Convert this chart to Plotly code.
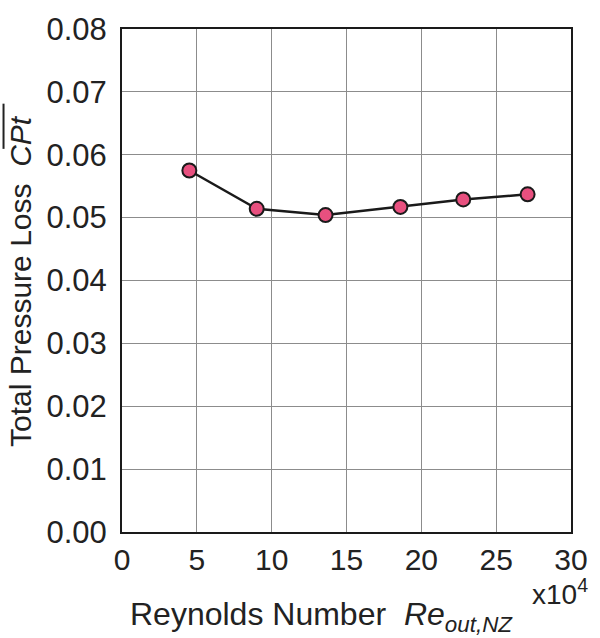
import plotly.graph_objects as go

# Data (Reynolds number in units of 1e4, total pressure loss coefficient)
reynolds = [4.5, 9.0, 13.6, 18.6, 22.8, 27.1]
cpt_loss = [0.0575, 0.0514, 0.0504, 0.0517, 0.0529, 0.0537]

x_ticks = [0, 5, 10, 15, 20, 25, 30]
y_ticks = [0.00, 0.01, 0.02, 0.03, 0.04, 0.05, 0.06, 0.07, 0.08]

W, H = 600, 638
L, R, T, B = 122, 27, 20, 106
pw, ph = W - L - R, H - T - B

def px(xp):
    return (xp - L) / pw

def py(yp):
    return (H - B - yp) / ph

font_main = "Liberation Sans, Arial, sans-serif"
txt_col = "#222222"

fig = go.Figure()
fig.add_trace(go.Scatter(
    x=reynolds, y=cpt_loss, mode="lines+markers",
    line=dict(color="#1a1a1a", width=2.5),
    marker=dict(size=14, color="#e8507f", line=dict(color="#1a1a1a", width=2)),
    showlegend=False, cliponaxis=False,
))

axis_common = dict(
    showgrid=True, gridcolor="#8c8c8c", gridwidth=1,
    showline=True, linecolor="#1a1a1a", linewidth=2, mirror=True,
    zeroline=False, ticks="",
)

fig.update_layout(
    width=W, height=H,
    margin=dict(l=L, r=R, t=T, b=B),
    paper_bgcolor="white", plot_bgcolor="white",
    xaxis=dict(range=[0, 30], tickvals=x_ticks, ticktext=[str(v) for v in x_ticks],
               ticklabelstandoff=0,
               tickfont=dict(family=font_main, size=30, color=txt_col),
               **axis_common),
    yaxis=dict(range=[0, 0.08], tickvals=y_ticks, ticktext=[f"{v:.2f}" for v in y_ticks],
               ticklabelstandoff=7,
               tickfont=dict(family=font_main, size=31, color=txt_col),
               **axis_common),
    font=dict(family=font_main, color=txt_col),
)

# Y-axis title with overlined CPt
fig.add_annotation(
    xref="paper", yref="paper", x=px(20), y=py(276),
    text="Total Pressure Loss  <i>CPt</i>", textangle=-90,
    showarrow=False, xanchor="center", yanchor="middle",
    font=dict(family=font_main, size=30, color=txt_col),
)
fig.add_shape(type="line", xref="paper", yref="paper",
              x0=px(3), x1=px(3), y0=py(96), y1=py(142),
              line=dict(color=txt_col, width=2))

# X-axis title
fig.add_annotation(
    xref="paper", yref="paper", x=px(322), y=py(618),
    text="Reynolds Number  <i>Re<sub>out,NZ</sub></i>",
    showarrow=False, xanchor="center", yanchor="middle",
    font=dict(family=font_main, size=32, color=txt_col),
)
# Scale factor
fig.add_annotation(
    xref="paper", yref="paper", x=px(562), y=py(593),
    text="x10<sup>4</sup>",
    showarrow=False, xanchor="center", yanchor="middle",
    font=dict(family=font_main, size=28, color=txt_col),
)

fig.write_html("out.html")
